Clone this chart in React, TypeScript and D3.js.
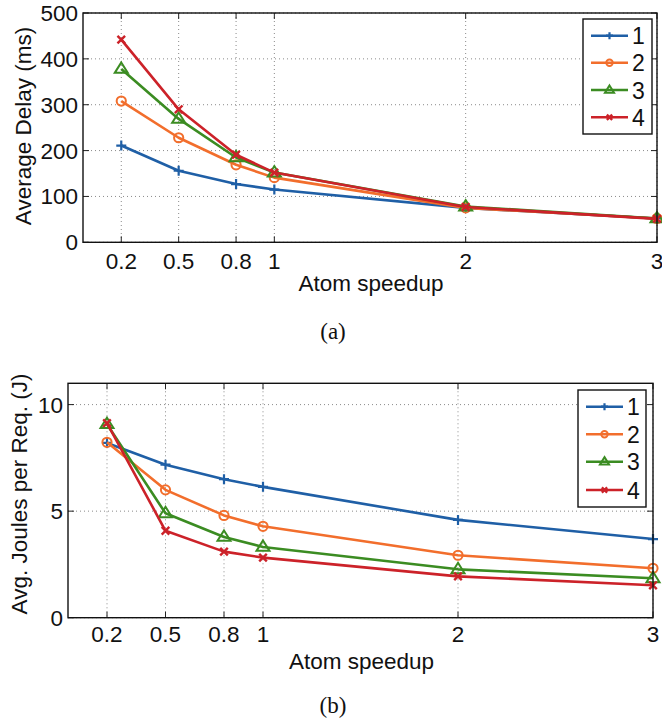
import React from "react";
import * as d3 from "d3";

const xTicks = [0.2, 0.5, 0.8, 1, 2, 3];
const speedups = [0.2, 0.5, 0.8, 1, 2, 3];
const seriesNames = ["1", "2", "3", "4"];
const seriesColors = ["#1f5fa6", "#f26e2c", "#3b8c22", "#cc2229"];
const seriesMarkers = ["plus", "circle", "triangle", "cross"];

// (a) Average delay (ms)
const delay1 = [211, 156, 127, 115, 75, 52];
const delay2 = [308, 228, 169, 141, 75, 52];
const delay3 = [378, 269, 185, 152, 78, 52];
const delay4 = [442, 290, 191, 152, 77, 51];
const delayTicks = [0, 100, 200, 300, 400, 500];

// (b) Avg joules per request (J)
const joule1 = [8.2, 7.18, 6.5, 6.14, 4.59, 3.69];
const joule2 = [8.23, 6.0, 4.8, 4.29, 2.93, 2.32];
const joule3 = [9.08, 4.9, 3.79, 3.32, 2.27, 1.85];
const joule4 = [9.13, 4.08, 3.1, 2.82, 1.94, 1.52];
const jouleTicks = [0, 5, 10];

const FONT = "'Liberation Sans', Arial, Helvetica, sans-serif";
const FS = 22.5;

function Marker({ type, x, y, color, s = 1 }: { type: string; x: number; y: number; color: string; s?: number }) {
  if (type === "plus") {
    const a = 5 * s;
    return (
      <path d={`M${x - a},${y}H${x + a}M${x},${y - a}V${y + a}`} stroke={color} strokeWidth={2.2} fill="none" />
    );
  }
  if (type === "circle") {
    return <circle cx={x} cy={y} r={4.6 * s} stroke={color} strokeWidth={2} fill="none" />;
  }
  if (type === "triangle") {
    const a = 6.5 * s;
    return (
      <path
        d={`M${x},${y - a}L${x + a},${y + a * 0.6}L${x - a},${y + a * 0.6}Z`}
        stroke={color}
        strokeWidth={2}
        fill="none"
        strokeLinejoin="miter"
      />
    );
  }
  const a = 3.8 * s;
  return (
    <path
      d={`M${x - a},${y - a}L${x + a},${y + a}M${x - a},${y + a}L${x + a},${y - a}`}
      stroke={color}
      strokeWidth={2.4}
      fill="none"
    />
  );
}

function Panel({
  left, right, top, bottom, yDomain, yTicks, series, yLabel, yLabelCenter, yLabelX,
  tickBaseline, titleBaseline, caption, captionBaseline, legend,
}: {
  left: number; right: number; top: number; bottom: number;
  yDomain: [number, number]; yTicks: number[]; series: number[][]; yLabel: string;
  yLabelCenter: number; yLabelX: number; tickBaseline: number; titleBaseline: number;
  caption: string; captionBaseline: number;
  legend: { x0: number; x1: number; y0: number; y1: number; ys: number[]; lx0: number; lx1: number; tx: number };
}) {
  const x = d3.scaleLinear().domain([0, 3]).range([left, right]);
  const y = d3.scaleLinear().domain(yDomain).range([bottom, top]);
  const line = d3
    .line<number>()
    .x((_, i) => x(speedups[i]))
    .y((d) => y(d));
  const tl = 6;
  return (
    <g>
      {yTicks.map((t) => (
        <line key={"gy" + t} x1={left} x2={right} y1={y(t)} y2={y(t)} stroke="#8a8a8a" strokeWidth={1} strokeDasharray="1,3" />
      ))}
      {xTicks.map((t) => (
        <line key={"gx" + t} x1={x(t)} x2={x(t)} y1={top} y2={bottom} stroke="#8a8a8a" strokeWidth={1} strokeDasharray="1,3" />
      ))}
      {yTicks.map((t) => (
        <g key={"ty" + t}>
          <line x1={left} x2={left + tl} y1={y(t)} y2={y(t)} stroke="#222" strokeWidth={1} />
          <line x1={right - tl} x2={right} y1={y(t)} y2={y(t)} stroke="#222" strokeWidth={1} />
          <text x={left - 5} y={y(t) + 8} textAnchor="end" fontFamily={FONT} fontSize={FS} fill="#111">
            {t}
          </text>
        </g>
      ))}
      {xTicks.map((t) => (
        <g key={"tx" + t}>
          <line x1={x(t)} x2={x(t)} y1={bottom} y2={bottom - tl} stroke="#222" strokeWidth={1} />
          <line x1={x(t)} x2={x(t)} y1={top} y2={top + tl} stroke="#222" strokeWidth={1} />
          <text x={x(t)} y={tickBaseline} textAnchor="middle" fontFamily={FONT} fontSize={FS} fill="#111">
            {t}
          </text>
        </g>
      ))}
      {series.map((vals, si) => (
        <g key={"s" + si}>
          <path d={line(vals) || ""} fill="none" stroke={seriesColors[si]} strokeWidth={2.6} strokeLinejoin="round" />
          {vals.map((v, i) => (
            <Marker key={i} type={seriesMarkers[si]} x={x(speedups[i])} y={y(v)} color={seriesColors[si]} />
          ))}
        </g>
      ))}
      <rect x={left} y={top} width={right - left} height={bottom - top} fill="none" stroke="#111" strokeWidth={1.4} />
      <rect x={legend.x0} y={legend.y0} width={legend.x1 - legend.x0} height={legend.y1 - legend.y0} fill="#fff" stroke="#111" strokeWidth={1.4} />
      {seriesNames.map((n, si) => (
        <g key={"l" + si}>
          <line x1={legend.lx0} x2={legend.lx1} y1={legend.ys[si]} y2={legend.ys[si]} stroke={seriesColors[si]} strokeWidth={2.6} />
          <Marker type={seriesMarkers[si]} x={(legend.lx0 + legend.lx1) / 2} y={legend.ys[si]} color={seriesColors[si]} s={0.7} />
          <text x={legend.tx} y={legend.ys[si] + 8.5} fontFamily={FONT} fontSize={23} fill="#111">
            {n}
          </text>
        </g>
      ))}
      <text
        transform={`translate(${yLabelX},${yLabelCenter}) rotate(-90)`}
        textAnchor="middle"
        fontFamily={FONT}
        fontSize={FS}
        fill="#111"
      >
        {yLabel}
      </text>
      <text x={(left + right) / 2 + 1} y={titleBaseline} textAnchor="middle" fontFamily={FONT} fontSize={FS} fill="#111">
        Atom speedup
      </text>
      <text x={333} y={captionBaseline} textAnchor="middle" fontFamily="'Liberation Serif', 'Times New Roman', serif" fontSize={23} fill="#111">
        {caption}
      </text>
    </g>
  );
}

export default function App() {
  return (
    <svg width={662} height={718} style={{ position: "absolute", left: 0, top: 0, background: "#fff" }}>
      <rect x={0} y={0} width={662} height={718} fill="#fff" />
      <Panel
        left={83}
        right={657}
        top={13}
        bottom={242.3}
        yDomain={[0, 500]}
        yTicks={delayTicks}
        series={[delay1, delay2, delay3, delay4]}
        yLabel="Average Delay (ms)"
        yLabelCenter={126}
        yLabelX={31}
        tickBaseline={269}
        titleBaseline={291}
        caption="(a)"
        captionBaseline={339}
        legend={{ x0: 583, x1: 652, y0: 19, y1: 134, ys: [35.7, 62.7, 90, 117.3], lx0: 591, lx1: 628, tx: 632 }}
      />
      <Panel
        left={68}
        right={653}
        top={383.3}
        bottom={617.7}
        yDomain={[0, 11]}
        yTicks={jouleTicks}
        series={[joule1, joule2, joule3, joule4]}
        yLabel="Avg. Joules per Req. (J)"
        yLabelCenter={494}
        yLabelX={27}
        tickBaseline={642}
        titleBaseline={669}
        caption="(b)"
        captionBaseline={713}
        legend={{ x0: 578, x1: 646, y0: 390, y1: 507, ys: [406.7, 434.3, 461.7, 490], lx0: 586, lx1: 623, tx: 627 }}
      />
    </svg>
  );
}
